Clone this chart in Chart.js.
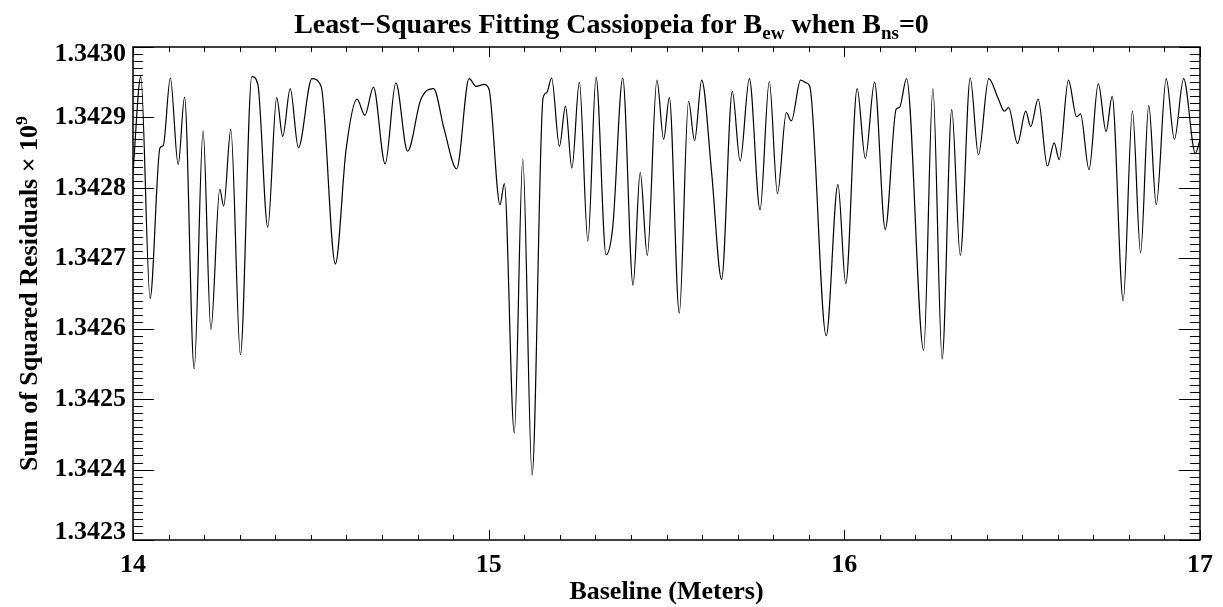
<!DOCTYPE html>
<html lang="en">
<head>
<meta charset="UTF-8">
<title>Least-Squares Fitting Cassiopeia</title>
<script src="https://cdn.jsdelivr.net/npm/chart.js@4.4.0/dist/chart.umd.min.js"></script>
<style>
  html, body { margin: 0; padding: 0; background: #fff; }
</style>
</head>
<body>
<canvas id="chart" width="1223" height="607"></canvas>
<script>
// values: peaks, troughs and shoulders of the residual curve
const baseline = [
  14.000, 14.022, 14.048, 14.076, 14.085, 14.105, 14.127, 14.145, 14.172, 14.197,
  14.219, 14.244, 14.255, 14.275, 14.302, 14.334, 14.351, 14.379, 14.404, 14.421,
  14.442, 14.465, 14.503, 14.529, 14.569, 14.599, 14.630, 14.652, 14.676, 14.709,
  14.739, 14.772, 14.809, 14.845, 14.875, 14.910, 14.945, 14.965, 14.987, 15.001,
  15.032, 15.044, 15.072, 15.096, 15.122, 15.153, 15.163, 15.177, 15.199, 15.216,
  15.234, 15.255, 15.279, 15.302, 15.330, 15.349, 15.377, 15.406, 15.426, 15.446,
  15.473, 15.492, 15.508, 15.536, 15.562, 15.579, 15.599, 15.627, 15.655, 15.685,
  15.707, 15.733, 15.763, 15.789, 15.812, 15.837, 15.851, 15.877, 15.893, 15.903,
  15.949, 15.982, 16.004, 16.036, 16.059, 16.085, 16.115, 16.146, 16.155, 16.175,
  16.223, 16.249, 16.275, 16.302, 16.326, 16.354, 16.377, 16.406, 16.431, 16.450,
  16.462, 16.487, 16.510, 16.524, 16.545, 16.571, 16.590, 16.604, 16.630, 16.653,
  16.664, 16.688, 16.714, 16.736, 16.753, 16.784, 16.810, 16.833, 16.856, 16.877,
  16.905, 16.928, 16.954, 16.987, 17.000
];
const residuals = [
  1.342822, 1.342958, 1.342643, 1.342857, 1.342860, 1.342956, 1.342833, 1.342929, 1.342543, 1.342881,
  1.342599, 1.342798, 1.342774, 1.342883, 1.342563, 1.342958, 1.342947, 1.342744, 1.342928, 1.342873,
  1.342941, 1.342857, 1.342955, 1.342944, 1.342692, 1.342854, 1.342926, 1.342903, 1.342943, 1.342834,
  1.342949, 1.342852, 1.342925, 1.342941, 1.342883, 1.342827, 1.342955, 1.342944, 1.342947, 1.342940,
  1.342776, 1.342806, 1.342452, 1.342841, 1.342392, 1.342928, 1.342935, 1.342956, 1.342859, 1.342916,
  1.342828, 1.342950, 1.342724, 1.342957, 1.342705, 1.342745, 1.342956, 1.342662, 1.342822, 1.342704,
  1.342953, 1.342869, 1.342928, 1.342622, 1.342923, 1.342867, 1.342953, 1.342821, 1.342670, 1.342937,
  1.342838, 1.342955, 1.342769, 1.342951, 1.342792, 1.342907, 1.342895, 1.342953, 1.342949, 1.342944,
  1.342590, 1.342805, 1.342664, 1.342941, 1.342842, 1.342950, 1.342741, 1.342912, 1.342914, 1.342955,
  1.342569, 1.342941, 1.342557, 1.342911, 1.342704, 1.342956, 1.342847, 1.342955, 1.342929, 1.342909,
  1.342914, 1.342863, 1.342909, 1.342887, 1.342926, 1.342831, 1.342864, 1.342840, 1.342953, 1.342901,
  1.342905, 1.342826, 1.342948, 1.342880, 1.342930, 1.342640, 1.342909, 1.342708, 1.342917, 1.342776,
  1.342955, 1.342869, 1.342955, 1.342849, 1.342868
];
const xTickLabels = [14, 15, 16, 17];
const yTickLabels = [1.3423, 1.3424, 1.3425, 1.3426, 1.3427, 1.3428, 1.3429, 1.3430];

const serif = "'Liberation Serif', 'Times New Roman', serif";

// draw a string made of runs, some of them sub- or superscripted
function drawRuns(ctx, runs, x, y, size) {
  const fontFor = r => 'bold ' + (r.small ? size * 0.68 : size) + 'px ' + serif;
  let total = 0;
  runs.forEach(r => { ctx.font = fontFor(r); total += ctx.measureText(r.t).width; });
  let cx = x - total / 2;
  ctx.textAlign = 'left';
  ctx.textBaseline = 'alphabetic';
  runs.forEach(r => {
    ctx.font = fontFor(r);
    ctx.fillText(r.t, cx, y + (r.shift || 0) * size);
    cx += ctx.measureText(r.t).width;
  });
}

const frame = {
  id: 'frame',
  afterDraw(chart) {
    const { ctx, chartArea: a, scales: { x, y } } = chart;
    ctx.save();
    ctx.strokeStyle = '#000';
    ctx.lineWidth = 1;
    ctx.beginPath();
    for (let i = 0; i <= 30; i++) {
      const px = Math.round(x.getPixelForValue(xTickLabels[0] + i / 10)) + 0.5;
      const len = i % 10 === 0 ? 10 : 5;
      ctx.moveTo(px, a.bottom); ctx.lineTo(px, a.bottom - len);
      ctx.moveTo(px, a.top); ctx.lineTo(px, a.top + len);
    }
    for (let i = 0; i <= 70; i++) {
      const py = Math.round(y.getPixelForValue(yTickLabels[0] + i / 100000)) + 0.5;
      const len = i % 10 === 0 ? 21 : 10;
      ctx.moveTo(a.left, py); ctx.lineTo(a.left + len, py);
      ctx.moveTo(a.right, py); ctx.lineTo(a.right - len, py);
    }
    ctx.stroke();
    ctx.lineWidth = 1.5;
    ctx.strokeRect(a.left, a.top, a.right - a.left, a.bottom - a.top);

    ctx.fillStyle = '#000';
    // title
    drawRuns(ctx, [
      { t: 'Least\u2212Squares Fitting Cassiopeia for B' },
      { t: 'ew', small: true, shift: 0.22 },
      { t: ' when B' },
      { t: 'ns', small: true, shift: 0.22 },
      { t: '=0' }
    ], chart.width / 2, 33, 28);
    // x axis title
    drawRuns(ctx, [{ t: 'Baseline (Meters)' }], (a.left + a.right) / 2, 599, 26);
    // y axis title
    ctx.translate(37, (a.top + a.bottom) / 2);
    ctx.rotate(-Math.PI / 2);
    drawRuns(ctx, [
      { t: 'Sum of Squared Residuals \u00d7 10' },
      { t: '9', small: true, shift: -0.4 }
    ], 0, 0, 26);
    ctx.restore();
  }
};

const last = yTickLabels.length - 1;

new Chart(document.getElementById('chart'), {
  type: 'line',
  data: {
    datasets: [{
      data: baseline.map((b, i) => ({ x: b, y: residuals[i] })),
      borderColor: '#000',
      borderWidth: 1.2,
      pointRadius: 0,
      fill: false,
      cubicInterpolationMode: 'monotone'
    }]
  },
  options: {
    responsive: false,
    animation: false,
    events: [],
    layout: { padding: { top: 47, right: 20, left: 0, bottom: 0 } },
    plugins: { legend: { display: false }, tooltip: { enabled: false }, title: { display: false } },
    scales: {
      x: {
        type: 'linear',
        min: 14,
        max: 17,
        grid: { display: false, drawTicks: false },
        border: { display: false },
        afterBuildTicks: s => { s.ticks = xTickLabels.map(v => ({ value: v })); },
        afterFit: s => { s.height = 67; },
        ticks: {
          padding: 10,
          color: '#000',
          maxRotation: 0,
          font: { family: serif, size: 26, weight: 'bold' },
          callback: v => String(v)
        }
      },
      y: {
        type: 'linear',
        min: 1.3423,
        max: 1.3430,
        grid: { display: false, drawTicks: false },
        border: { display: false },
        afterBuildTicks: s => { s.ticks = yTickLabels.map(v => ({ value: v })); },
        afterFit: s => { s.width = 133; },
        ticks: {
          padding: 7,
          color: '#000',
          // end labels sit just inside the axis range, as in the original plot
          font: c => ({ family: serif, size: 26, weight: 'bold',
                        lineHeight: (c.index === 0 || c.index === last) ? 0.58 : 1.2 }),
          callback: (v, i) => {
            const s = Number(v).toFixed(4);
            if (i === last) return ['', s];
            if (i === 0) return [s, ''];
            return s;
          }
        }
      }
    }
  },
  plugins: [frame]
});
</script>
</body>
</html>
